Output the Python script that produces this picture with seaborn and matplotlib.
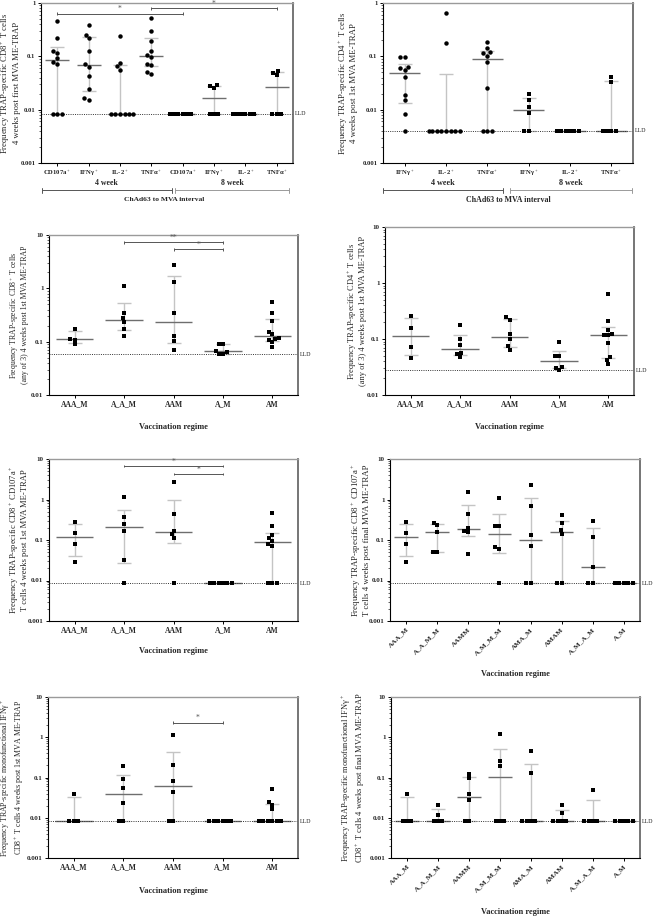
import numpy as np
import pandas as pd
import matplotlib
matplotlib.use("Agg")
import matplotlib.pyplot as plt
import matplotlib.transforms as mtransforms
from matplotlib.ticker import LogLocator, NullFormatter
import seaborn as sns

# lower limits of detection
LLD_CD8 = 0.0083
LLD_CD4 = 0.004
LLD_ANY8 = 0.058
LLD_ANY4 = 0.0277
LLD_107 = 0.0086
LLD_IFN = 0.0082

# --- top row: cytokines by ChAd63-MVA interval (4 week circles, 8 week squares)
CYTO8_CATS = ["CD107a_4", "IFNg_4", "IL2_4", "TNFa_4", "CD107a_8", "IFNg_8", "IL2_8", "TNFa_8"]
CYTO8_LABELS = ["CD107a$^+$", "IFNγ$^+$", "IL-2$^+$", "TNFα$^+$",
                "CD107a$^+$", "IFNγ$^+$", "IL-2$^+$", "TNFα$^+$"]
CYTO8_VALUES = [
    [0.45, 0.22, 0.128, 0.115, 0.093, 0.078, 0.072] + [LLD_CD8] * 3,
    [0.38, 0.255, 0.218, 0.128, 0.072, 0.063, 0.0434, 0.0244, 0.0163, 0.0154],
    [0.237, 0.075, 0.065, 0.056] + [LLD_CD8] * 6,
    [0.52, 0.30, 0.19, 0.128, 0.107, 0.096, 0.071, 0.070, 0.050, 0.046],
    [LLD_CD8] * 6,
    [0.0294, 0.0274, 0.0255] + [LLD_CD8] * 3,
    [LLD_CD8] * 6,
    [0.0538, 0.0487, 0.0453] + [LLD_CD8] * 3,
]

CYTO4_CATS = ["IFNg_4", "IL2_4", "TNFa_4", "IFNg_8", "IL2_8", "TNFa_8"]
CYTO4_LABELS = ["IFNγ$^+$", "IL-2$^+$", "TNFα$^+$", "IFNγ$^+$", "IL-2$^+$", "TNFα$^+$"]
CYTO4_VALUES = [
    [0.096, 0.096, 0.063, 0.061, 0.0555, 0.041, 0.0188, 0.015, 0.0082, LLD_CD4],
    [0.65, 0.175] + [LLD_CD4] * 8,
    [0.188, 0.141, 0.119, 0.114, 0.103, 0.079, 0.026] + [LLD_CD4] * 3,
    [0.0194, 0.0154, 0.011, 0.0087] + [LLD_CD4] * 2,
    [LLD_CD4] * 6,
    [0.041, 0.0326] + [LLD_CD4] * 4,
]

# --- regimes
REG5 = ["AAA_M", "A_A_M", "AAM", "A_M", "AM"]
REG8 = ["AAA_M", "A_A_M_M", "AAMM", "A_M_M_M", "AMA_M", "AMAM", "A_M_A_M", "A_M"]

ANY8_VALUES = [
    [0.173, 0.112, 0.109, 0.0904],
    [1.12, 0.345, 0.274, 0.23, 0.173, 0.13],
    [2.78, 1.3, 0.345, 0.13, 0.105, 0.07],
    [0.089, 0.089, 0.0678, 0.064, 0.0587, 0.0587],
    [0.555, 0.34, 0.248, 0.154, 0.137, 0.119, 0.11, 0.107, 0.097, 0.078],
]
ANY4_VALUES = [
    [0.26, 0.156, 0.0714, 0.0466],
    [0.179, 0.1, 0.0775, 0.0573, 0.0537, 0.0473],
    [0.246, 0.22, 0.122, 0.099, 0.0755, 0.064],
    [0.09, 0.05, 0.049, 0.0313, 0.0309, LLD_ANY4],
    [0.644, 0.209, 0.146, 0.122, 0.117, 0.116, 0.0865, 0.047, 0.0418, 0.0354],
]
CD107_FIRST = [
    [0.279, 0.152, 0.0796, 0.0279],
    [1.16, 0.365, 0.249, 0.17, 0.0325, LLD_107],
    [2.64, 0.441, 0.17, 0.138, 0.11, LLD_107],
    [LLD_107] * 6,
    [0.458, 0.222, 0.13, 0.112, 0.096, 0.078, 0.072] + [LLD_107] * 3,
]
CD107_FINAL = [
    [0.279, 0.152, 0.0796, 0.0279],
    [0.269, 0.231, 0.161, 0.0514, 0.0494],
    [1.55, 0.441, 0.202, 0.167, 0.155, 0.0458],
    [1.08, 0.218, 0.218, 0.0658, 0.0598, LLD_107],
    [2.31, 0.697, 0.133, 0.0724] + [LLD_107] * 2,
    [0.417, 0.264, 0.174, 0.138] + [LLD_107] * 2,
    [0.29, 0.116, 0.021] + [LLD_107] * 2,
    [LLD_107] * 5,
]
IFN_FIRST = [
    [0.04] + [LLD_IFN] * 3,
    [0.193, 0.0897, 0.0535, 0.0235] + [LLD_IFN] * 2,
    [1.12, 0.204, 0.083, 0.0425] + [LLD_IFN] * 2,
    [LLD_IFN] * 6,
    [0.0525, 0.0249, 0.0213, 0.0166] + [LLD_IFN] * 6,
]
IFN_FINAL = [
    [0.04] + [LLD_IFN] * 3,
    [0.0213, 0.012] + [LLD_IFN] * 3,
    [0.124, 0.095, 0.0386, 0.0274] + [LLD_IFN] * 2,
    [1.21, 0.262, 0.196] + [LLD_IFN] * 3,
    [0.465, 0.128] + [LLD_IFN] * 4,
    [0.0213, 0.0132] + [LLD_IFN] * 4,
    [0.0486] + [LLD_IFN] * 4,
    [LLD_IFN] * 5,
]

sns.set_theme(style="ticks")
plt.rcParams["font.family"] = ["Liberation Serif", "DejaVu Serif"]
plt.rcParams["mathtext.fontset"] = "custom"
plt.rcParams["mathtext.rm"] = "Liberation Serif"
plt.rcParams["mathtext.it"] = "Liberation Serif:italic"
plt.rcParams["mathtext.bf"] = "Liberation Serif:bold"

W, H = 655, 919
IQR_GREY = "#c4c4c4"
MED_GREY = "#6e6e6e"
fig = plt.figure(figsize=(W / 100, H / 100), dpi=100)


def add_axes(l, t, r, b):
    return fig.add_axes([l / W, 1 - b / H, (r - l) / W, (b - t) / H])


def make_frame(cats, values):
    return pd.DataFrame({
        "group": np.repeat(cats, [len(v) for v in values]),
        "value": np.concatenate(values),
    })


def panel(ax, cats, labels, values, lld, ylim, ylabel, ylab_size, ylab_x, n_circles=0,
          rotate=False, xlabel=True, label_y=-0.19, tick_size=5.5, ytick_size=5):
    df = make_frame(cats, values)
    ax.set_yscale("log")
    n = len(cats)
    xlim = (-0.52, n - 0.48)
    ax_px = ax.get_position().width * W
    cap = 7.0 * (xlim[1] - xlim[0]) / ax_px
    med_w = 0.38

    for i, c in enumerate(cats):
        v = df.loc[df.group == c, "value"].to_numpy()
        q1, med, q3 = np.percentile(v, [25, 50, 75], method="weibull")
        ax.vlines(i, q1, q3, color=IQR_GREY, lw=1.0, zorder=1)
        ax.hlines([q1, q3], i - cap, i + cap, color=IQR_GREY, lw=1.0, zorder=1)
        ax.hlines(med, i - med_w, i + med_w, color=MED_GREY, lw=1.0, zorder=1.5)

    circ = df[df.group.isin(cats[:n_circles])]
    sq = df[~df.group.isin(cats[:n_circles])]
    if len(circ):
        sns.swarmplot(data=circ, x="group", y="value", order=cats, ax=ax,
                      color="black", marker="o", size=3.2, linewidth=0, zorder=3)
    if len(sq):
        sns.swarmplot(data=sq, x="group", y="value", order=cats, ax=ax,
                      color="black", marker="s", size=3.0, linewidth=0, zorder=3)

    ax.axhline(lld, ls=(0, (1, 1.3)), color="#333333", lw=0.7, zorder=2)
    tr = mtransforms.blended_transform_factory(ax.transAxes, ax.transData)
    ax.text(1.008, lld, "LLD", transform=tr, fontsize=4.3, va="center", ha="left")

    ax.set_ylim(ylim)
    ax.set_xlim(xlim)
    decades = [10.0 ** k for k in range(int(np.log10(ylim[0])), int(np.log10(ylim[1])) + 1)]
    ax.set_yticks(decades)
    ax.set_yticklabels([f"{d:g}" for d in decades])
    ax.yaxis.set_minor_locator(LogLocator(base=10, subs=np.arange(2, 10)))
    ax.yaxis.set_minor_formatter(NullFormatter())
    ax.set_xticks(range(n))
    if rotate:
        ax.set_xticklabels(labels, rotation=45, ha="right", rotation_mode="anchor")
    else:
        ax.set_xticklabels(labels)
    ax.tick_params(axis="both", which="major", length=2.5,
                   width=0.7, pad=1.5, color="black")
    ax.tick_params(axis="x", labelsize=tick_size)
    ax.tick_params(axis="y", labelsize=ytick_size)
    ax.tick_params(axis="y", which="minor", length=1.5, width=0.5)
    for t in ax.get_xticklabels() + ax.get_yticklabels():
        t.set_fontweight("bold")

    ax.set_ylabel(ylabel, fontsize=ylab_size, linespacing=1.08)
    ax.yaxis.set_label_coords(ylab_x, 0.5)
    if xlabel:
        ax.set_xlabel("Vaccination regime", fontsize=6.0, fontweight="bold")
        ax.xaxis.set_label_coords(0.5, label_y)
        ax.xaxis.label.set_va("center")
    else:
        ax.set_xlabel("")

    for s in ["left", "bottom"]:
        ax.spines[s].set_color("black")
        ax.spines[s].set_linewidth(0.8)
    ax.spines["top"].set_color("#9a9a9a")
    ax.spines["top"].set_linewidth(1.0)
    ax.spines["right"].set_color("#6a6a6a")
    ax.spines["right"].set_linewidth(1.3)
    return ax


def bracket(ax, x0, x1, y, label):
    ax.plot([x0, x1], [y, y], color="#555555", lw=0.7, zorder=4)
    ax.vlines([x0, x1], y / 1.07, y * 1.07, color="#555555", lw=0.7, zorder=4)
    ax.annotate(label, xy=((x0 + x1) / 2, y), xytext=(0, 0.3), textcoords="offset points",
                ha="center", va="bottom", fontsize=5.5, color="#555555")


def interval_groups(ax, left_span, right_span, mid, size):
    tr = mtransforms.blended_transform_factory(ax.transData, ax.transAxes)
    for (x0, x1), name, col in [(left_span, "4 week", "#555555"), (right_span, "8 week", "#9a9a9a")]:
        ax.text((x0 + x1) / 2, -0.125, name, transform=tr, ha="center", va="center",
                fontsize=size, fontweight="bold")
        ax.plot([x0, x1], [-0.17, -0.17], transform=tr, clip_on=False, color=col, lw=0.7)
        ax.plot([x0, x0], [-0.155, -0.185], transform=tr, clip_on=False, color=col, lw=0.7)
        ax.plot([x1, x1], [-0.155, -0.185], transform=tr, clip_on=False, color=col, lw=0.7)
    ax.text(mid, -0.23, "ChAd63 to MVA interval", transform=tr, ha="center", va="center",
            fontsize=size - 0.2, fontweight="bold")


# row 1
ax1 = add_axes(41, 3, 293, 163)
panel(ax1, CYTO8_CATS, CYTO8_LABELS, CYTO8_VALUES, LLD_CD8, (0.001, 1),
      "Frequency TRAP-specific CD8$^+$ T cells\n4 weeks post first MVA ME-TRAP", 6.2, -0.08,
      n_circles=4, xlabel=False, tick_size=4.8, ytick_size=4.8)
bracket(ax1, 0, 4, 0.63, "*")
bracket(ax1, 3, 7, 0.8, "*")
interval_groups(ax1, (-0.5, 3.65), (3.75, 7.4), 3.4, 5.6)

ax2 = add_axes(383, 3, 633, 163)
panel(ax2, CYTO4_CATS, CYTO4_LABELS, CYTO4_VALUES, LLD_CD4, (0.001, 1),
      "Frequency TRAP-specific CD4$^+$ T cells\n4 weeks post 1st MVA ME-TRAP", 6.3, -0.1,
      n_circles=3, xlabel=False, tick_size=4.8, ytick_size=4.8)
interval_groups(ax2, (-0.53, 2.38), (2.55, 5.5), 2.5, 5.9)

# row 2
ax3 = add_axes(49, 235, 298, 395)
panel(ax3, REG5, REG5, ANY8_VALUES, LLD_ANY8, (0.01, 10),
      "Frequency TRAP-specific CD8$^+$ T cells\n(any of 3) 4 weeks post 1st MVA ME-TRAP", 5.6, -0.08,
      label_y=-0.2)
bracket(ax3, 1, 3, 7.3, "**")
bracket(ax3, 2, 3, 5.4, "*")

ax4 = add_axes(385, 227, 634, 395)
panel(ax4, REG5, REG5, ANY4_VALUES, LLD_ANY4, (0.01, 10),
      "Frequency TRAP-specific CD4$^+$ T cells\n(any of 3) 4 weeks post 1st MVA ME-TRAP", 6.0, -0.072,
      label_y=-0.19)

# row 3
ax5 = add_axes(49, 459, 298, 621)
panel(ax5, REG5, REG5, CD107_FIRST, LLD_107, (0.001, 10),
      "Frequency TRAP-specific CD8$^+$ CD107a$^+$\nT cells 4 weeks post 1st MVA ME-TRAP", 6.1, -0.08,
      label_y=-0.185)
bracket(ax5, 1, 3, 6.6, "*")
bracket(ax5, 2, 3, 4.25, "*")

ax6 = add_axes(390, 459, 640, 621)
panel(ax6, REG8, REG8, CD107_FINAL, LLD_107, (0.001, 10),
      "Frequency TRAP-specific CD8$^+$ CD107a$^+$\nT cells 4 weeks post final MVA ME-TRAP", 6.3, -0.076,
      rotate=True, label_y=-0.325, tick_size=5.2)

# row 4
ax7 = add_axes(48, 697, 298, 858)
panel(ax7, REG5, REG5, IFN_FIRST, LLD_IFN, (0.001, 10),
      "Frequency TRAP-specific monofunctional IFNγ$^+$\nCD8$^+$ T cells 4 weeks post 1st MVA ME-TRAP", 5.7, -0.088,
      label_y=-0.205)
bracket(ax7, 2, 3, 2.32, "*")

ax8 = add_axes(391, 697, 640, 858)
panel(ax8, REG8, REG8, IFN_FINAL, LLD_IFN, (0.001, 10),
      "Frequency TRAP-specific monofunctional IFNγ$^+$\nCD8$^+$ T cells 4 weeks post final MVA ME-TRAP", 6.0, -0.096,
      rotate=True, label_y=-0.335, tick_size=5.2)

fig.savefig("out.png", dpi=100, facecolor="white")
